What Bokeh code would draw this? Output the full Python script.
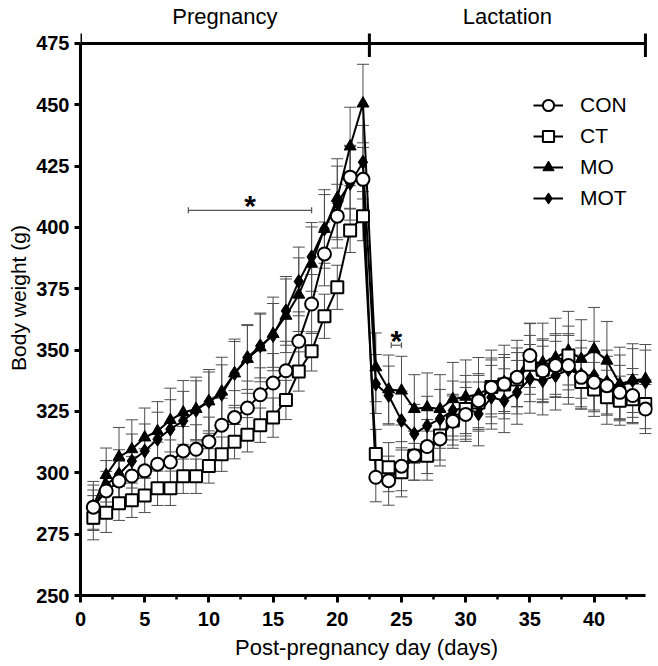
import math
from bokeh.plotting import figure
from bokeh.models import (Range1d, FixedTicker, ColumnDataSource, Whisker, TeeHead,
                          Legend, LegendItem, Label, Title)
from bokeh.embed import file_html
from bokeh.resources import INLINE

# ---------------- data ----------------
days = list(range(1, 45))

con = [286.0, 292.6, 296.7, 298.7, 300.8, 303.5, 304.4, 308.9, 309.6, 312.7, 319.4,
       322.5, 326.4, 331.8, 336.6, 341.6, 353.6, 368.8, 389.2, 404.6, 420.5, 419.6,
       298.2, 296.8, 302.7, 307.0, 310.7, 313.8, 321.0, 323.8, 329.4, 334.8, 336.2,
       338.9, 347.8, 341.6, 343.7, 343.7, 338.9, 336.9, 335.5, 332.8, 331.5, 326.0]
ct = [281.7, 283.7, 287.6, 288.8, 290.8, 293.7, 293.7, 298.6, 298.6, 302.8, 307.6,
      312.7, 315.5, 319.4, 322.5, 329.7, 341.3, 349.5, 363.8, 375.6, 398.8, 404.6,
      307.7, 302.3, 300.2, 307.0, 307.0, 315.2, 321.3, 326.0, 328.7, 335.0, 336.0,
      338.0, 344.0, 342.0, 344.0, 347.8, 337.0, 334.0, 330.8, 329.4, 330.0, 328.0]
mo = [286.5, 299.1, 306.5, 309.6, 314.4, 317.0, 321.5, 324.6, 326.0, 329.1, 333.1,
      340.5, 346.4, 351.1, 356.6, 364.0, 372.6, 385.2, 399.4, 412.0, 433.0, 450.5,
      343.0, 334.0, 333.5, 326.0, 326.7, 326.0, 330.0, 331.0, 332.0, 335.0, 337.0,
      339.0, 345.0, 345.0, 347.0, 349.8, 346.4, 350.4, 345.7, 336.2, 337.6, 338.3]
mot = [286.0, 295.0, 299.4, 304.8, 308.9, 313.7, 317.8, 321.2, 325.5, 329.1, 332.0,
       340.5, 347.0, 351.7, 356.0, 366.0, 378.0, 388.0, 399.4, 410.0, 418.0, 426.6,
       336.2, 331.5, 321.3, 315.9, 319.2, 322.0, 325.4, 326.7, 324.0, 330.8, 329.4,
       332.8, 338.3, 337.6, 339.6, 342.0, 340.0, 339.6, 337.0, 335.0, 337.6, 337.0]

con_sem = [7, 8, 8, 8, 9, 9, 9, 10, 10, 10, 11, 11, 11, 11, 12, 12, 12, 12, 13, 13, 13, 13,
           10, 10, 10, 10, 11, 11, 11, 11, 11, 12, 12, 12, 13, 13, 13, 13, 12, 12, 12, 11, 11, 10]
ct_sem = [9, 8, 7, 7, 7, 7, 7, 7, 7, 7, 7, 7, 7, 7, 8, 8, 8, 8, 9, 9, 9, 10,
          10, 10, 10, 10, 10, 10, 10, 11, 11, 11, 11, 11, 12, 12, 12, 12, 11, 11, 11, 10, 10, 10]
mo_sem = [10, 11, 12, 12, 12, 12, 13, 13, 13, 13, 14, 14, 14, 14, 15, 15, 15, 15, 16, 16, 16, 16,
          14, 14, 14, 14, 14, 14, 15, 15, 15, 15, 15, 15, 16, 16, 16, 16, 16, 17, 16, 15, 15, 14]
mot_sem = [9, 10, 10, 11, 11, 11, 12, 12, 12, 12, 12, 13, 13, 13, 13, 14, 14, 14, 14, 15, 15, 15,
           12, 12, 12, 12, 12, 12, 12, 13, 13, 13, 13, 13, 14, 14, 14, 14, 14, 14, 13, 13, 13, 13]

series_names = ["CON", "CT", "MO", "MOT"]

x_ticks = [0, 5, 10, 15, 20, 25, 30, 35, 40]
x_minor_ticks = [2.5, 7.5, 12.5, 17.5, 22.5, 27.5, 32.5, 37.5, 42.5]
y_ticks = [250, 275, 300, 325, 350, 375, 400, 425, 450, 475]

phase_names = ["Pregnancy", "Lactation"]
phase_bounds = [0, 22.5, 44]

sig_start = [8.4, 24.2]
sig_end = [18.0, 25.0]
sig_y = [407.0, 352.0]

# ---------------- figure ----------------
FONT = "Liberation Sans"
X_END = 44
Y_MIN, Y_MAX = 250, 475

p = figure(width=654, height=666, output_backend="svg", toolbar_location=None,
           x_range=Range1d(0, 44.55), y_range=Range1d(250, 492.5),
           min_border_left=80, min_border_right=2, min_border_top=0,
           min_border_bottom=71)
p.grid.visible = False
p.outline_line_color = None
p.background_fill_color = "white"
p.border_fill_color = "white"

xa = p.xaxis[0]
xa.ticker = FixedTicker(ticks=x_ticks, minor_ticks=x_minor_ticks)
xa.bounds = (0, X_END)
xa.axis_line_width = 3
xa.major_tick_line_width = 3
xa.minor_tick_line_width = 2.5
xa.major_tick_out = 7
xa.major_tick_in = 0
xa.minor_tick_out = 4
xa.minor_tick_in = 0
xa.major_label_text_font = FONT
xa.major_label_text_font_style = "bold"
xa.major_label_text_font_size = "20px"
xa.major_label_text_color = "black"
xa.major_label_standoff = 9
xa.axis_label = "Post-pregnancy day (days)"
xa.axis_label_text_font = FONT
xa.axis_label_text_font_style = "normal"
xa.axis_label_text_font_size = "22px"
xa.axis_label_text_color = "black"
xa.axis_label_standoff = 6

ya = p.yaxis[0]
ya.ticker = FixedTicker(ticks=y_ticks, minor_ticks=[])
ya.bounds = (Y_MIN, Y_MAX)
ya.axis_line_width = 3
ya.major_tick_line_width = 3
ya.major_tick_out = 6
ya.major_tick_in = 0
ya.minor_tick_out = 0
ya.minor_tick_in = 0
ya.major_label_text_font = FONT
ya.major_label_text_font_style = "bold"
ya.major_label_text_font_size = "20px"
ya.major_label_text_color = "black"
ya.major_label_standoff = 5

p.add_layout(Title(text="Body weight (g)", align="center", offset=-22, standoff=8,
                   text_font=FONT, text_font_size="21px", text_font_style="normal",
                   text_color="black"), "left")

# ---------------- header (phases) ----------------
p.segment(x0=[phase_bounds[0]], y0=[Y_MAX], x1=[phase_bounds[-1]], y1=[Y_MAX],
          line_color="black", line_width=3)
p.segment(x0=phase_bounds, y0=[Y_MAX - 5.5] * len(phase_bounds),
          x1=phase_bounds, y1=[Y_MAX + 4] * len(phase_bounds),
          line_color="black", line_width=3)
for i, name in enumerate(phase_names):
    p.add_layout(Label(x=(phase_bounds[i] + phase_bounds[i + 1]) / 2, y=Y_MAX, y_offset=27,
                       text=name, text_align="center", text_baseline="alphabetic",
                       text_font=FONT, text_font_size="22px", text_color="black"))

# ---------------- error bars ----------------
all_vals = [con, ct, mo, mot]
all_sem = [con_sem, ct_sem, mo_sem, mot_sem]
for vals, sem in zip(all_vals, all_sem):
    src = ColumnDataSource(dict(x=days,
                                upper=[v + s for v, s in zip(vals, sem)],
                                lower=[v - s for v, s in zip(vals, sem)]))
    w = Whisker(source=src, base="x", upper="upper", lower="lower", dimension="height",
                line_color="#4d4d4d", line_width=1, level="underlay",
                upper_head=TeeHead(size=12, line_color="#4d4d4d", line_width=1),
                lower_head=TeeHead(size=12, line_color="#4d4d4d", line_width=1))
    p.add_layout(w)

# ---------------- series ----------------
lines = {}
for name, vals in zip(series_names, all_vals):
    lines[name] = p.line(days, vals, line_color="black", line_width=2)

marks = {}
marks["MO"] = p.scatter(days, mo, marker="triangle", size=12, fill_color="black",
                        line_color="black", line_width=1)
marks["MOT"] = p.scatter(days, mot, marker="diamond", size=14,
                         fill_color="black", line_color="black", line_width=1)
marks["CT"] = p.scatter(days, ct, marker="square", size=12, fill_color="white",
                        line_color="black", line_width=2)
marks["CON"] = p.scatter(days, con, marker="circle", size=13, fill_color="white",
                         line_color="black", line_width=2)

# ---------------- significance ----------------
p.segment(x0=sig_start, y0=sig_y, x1=sig_end, y1=sig_y, line_color="#555555", line_width=1.2)
p.segment(x0=sig_start, y0=[y - 1.2 for y in sig_y], x1=sig_start, y1=[y + 1.2 for y in sig_y],
          line_color="#555555", line_width=1.2)
p.segment(x0=sig_end, y0=[y - 1.2 for y in sig_y], x1=sig_end, y1=[y + 1.2 for y in sig_y],
          line_color="#555555", line_width=1.2)
for s, e, y in zip(sig_start, sig_end, sig_y):
    p.add_layout(Label(x=(s + e) / 2, y=y, y_offset=5, text="*", text_align="center",
                       text_baseline="alphabetic", text_font=FONT, text_font_size="30px",
                       text_font_style="bold", text_color="black"))

# ---------------- legend ----------------
legend = Legend(items=[LegendItem(label=n, renderers=[lines[n], marks[n]]) for n in series_names],
                location=(453, 383), orientation="vertical", padding=0, margin=0, spacing=3,
                glyph_width=30, glyph_height=28, label_height=28, label_standoff=17,
                label_text_font=FONT, label_text_font_size="21px", label_text_color="black",
                border_line_color=None, background_fill_alpha=0)
p.add_layout(legend)

open("out.html", "w").write(file_html(p, INLINE))
